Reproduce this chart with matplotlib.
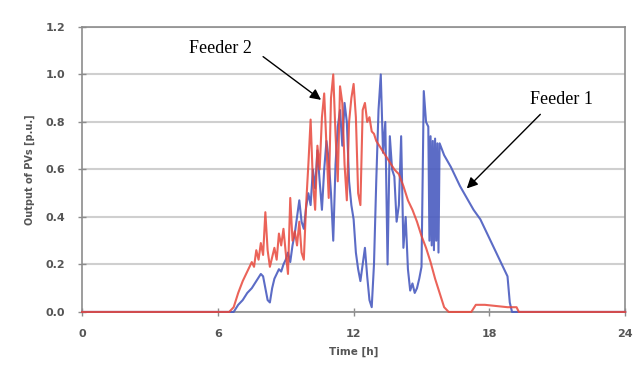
import matplotlib
matplotlib.use("Agg")
from matplotlib import pyplot as plt

# PV output over one day, per feeder (hours, per-unit)
feeder2_t = [0, 6.5, 6.7, 6.9, 7.1, 7.3, 7.5, 7.6, 7.7, 7.8, 7.9, 8.0, 8.1, 8.2, 8.3, 8.4,
             8.5, 8.6, 8.7, 8.8, 8.9, 9.0, 9.1, 9.2, 9.3, 9.4, 9.5, 9.6, 9.7, 9.8, 9.9,
             10.0, 10.1, 10.2, 10.3, 10.4, 10.5, 10.6, 10.7, 10.8, 10.9, 11.0, 11.1,
             11.2, 11.3, 11.4, 11.5, 11.6, 11.7, 11.8, 11.9, 12.0, 12.1, 12.2, 12.3,
             12.4, 12.5, 12.6, 12.7, 12.8, 12.9, 13.0, 13.2, 13.4, 13.6, 13.8, 14.0,
             14.2, 14.4, 14.6, 14.8, 15.0, 15.2, 15.4, 15.6, 15.8, 16.0, 16.2, 17.2,
             17.4, 17.8, 18.3, 18.8, 19.2, 19.3, 24]
feeder2_p = [0, 0, 0.02, 0.08, 0.13, 0.17, 0.21, 0.19, 0.26, 0.22, 0.29, 0.24, 0.42, 0.26,
             0.19, 0.23, 0.27, 0.22, 0.33, 0.28, 0.35, 0.25, 0.16, 0.48, 0.30, 0.34, 0.28,
             0.38, 0.25, 0.22, 0.45, 0.62, 0.81, 0.55, 0.43, 0.70, 0.60, 0.82, 0.92, 0.70,
             0.48, 0.90, 1.00, 0.75, 0.55, 0.95, 0.88, 0.62, 0.47, 0.80, 0.90, 0.96, 0.82,
             0.50, 0.45, 0.85, 0.88, 0.80, 0.82, 0.76, 0.75, 0.72, 0.69, 0.66, 0.63, 0.60,
             0.58, 0.53, 0.47, 0.43, 0.38, 0.32, 0.27, 0.21, 0.14, 0.08, 0.02, 0, 0, 0.03,
             0.03, 0.025, 0.02, 0.02, 0, 0]

feeder1_t = [0, 6.7, 6.9, 7.1, 7.3, 7.5, 7.7, 7.9, 8.0, 8.1, 8.2, 8.3, 8.4, 8.5, 8.6, 8.7,
             8.8, 8.9, 9.0, 9.1, 9.2, 9.3, 9.4, 9.5, 9.6, 9.7, 9.8, 9.9, 10.0, 10.1, 10.2,
             10.3, 10.4, 10.5, 10.6, 10.7, 10.8, 10.9, 11.0, 11.1, 11.2, 11.3, 11.4, 11.5,
             11.6, 11.7, 11.8, 11.9, 12.0, 12.1, 12.2, 12.3, 12.4, 12.5, 12.6, 12.7, 12.8,
             12.9, 13.0, 13.1, 13.2, 13.3, 13.4, 13.5, 13.6, 13.7, 13.8, 13.9, 14.0, 14.1,
             14.2, 14.3, 14.4, 14.5, 14.6, 14.7, 14.8, 14.9, 15.0, 15.1, 15.2, 15.3, 15.35,
             15.4, 15.45, 15.5, 15.55, 15.6, 15.65, 15.7, 15.75, 15.8, 16.0, 16.3, 16.7,
             17.0, 17.3, 17.6, 18.0, 18.3, 18.6, 18.8, 18.9, 19.0, 24]
feeder1_p = [0, 0, 0.03, 0.05, 0.08, 0.10, 0.13, 0.16, 0.15, 0.10, 0.05, 0.04, 0.10, 0.14,
             0.16, 0.18, 0.17, 0.20, 0.22, 0.25, 0.21, 0.28, 0.33, 0.40, 0.47, 0.38, 0.35,
             0.44, 0.50, 0.45, 0.60, 0.52, 0.68, 0.55, 0.43, 0.60, 0.72, 0.64, 0.50, 0.30,
             0.62, 0.78, 0.85, 0.70, 0.88, 0.80, 0.55, 0.45, 0.39, 0.25, 0.18, 0.13, 0.20,
             0.27, 0.15, 0.05, 0.02, 0.20, 0.55, 0.85, 1.00, 0.67, 0.80, 0.20, 0.74, 0.60,
             0.57, 0.38, 0.45, 0.74, 0.27, 0.40, 0.18, 0.09, 0.12, 0.08, 0.10, 0.14, 0.19,
             0.93, 0.80, 0.78, 0.30, 0.74, 0.28, 0.72, 0.26, 0.73, 0.30, 0.71, 0.25, 0.71,
             0.66, 0.61, 0.53, 0.48, 0.43, 0.39, 0.31, 0.25, 0.19, 0.15, 0.04, 0, 0]

x_ticks = [0, 6, 12, 18, 24]
y_ticks = [0.0, 0.2, 0.4, 0.6, 0.8, 1.0, 1.2]

fig = plt.figure(figsize=(6.36, 3.67), dpi=100)
ax = fig.add_axes([0.129, 0.150, 0.854, 0.7766])

ax.plot(feeder1_t, feeder1_p, color="#4a5cc0", linewidth=1.5, alpha=0.9, zorder=3,
        clip_on=False)
ax.plot(feeder2_t, feeder2_p, color="#e8483c", linewidth=1.5, alpha=0.85, zorder=4,
        clip_on=False)

ax.set_xlim(0, 24)
ax.set_ylim(0, 1.2)
ax.set_xticks(x_ticks)
ax.set_yticks(y_ticks)
ax.set_yticklabels([f"{v:.1f}" for v in y_ticks])
ax.grid(True, axis="y", color="#cfcfcf", linewidth=1.5, zorder=1)
ax.set_axisbelow(True)
for side in ax.spines.values():
    side.set_color("#8c8c8c")
    side.set_linewidth(1.2)
    side.set_zorder(2)
ax.tick_params(direction="inout", length=6, width=1.0, color="#8c8c8c",
               labelsize=8, labelcolor="#555555", pad=9)
for lbl in ax.get_xticklabels() + ax.get_yticklabels():
    lbl.set_fontweight("bold")

ax.set_xlabel("Time [h]", fontsize=7.5, fontweight="bold", color="#555555", labelpad=6)
ax.set_ylabel("Output of PVs [p.u.]", fontsize=7, fontweight="bold", color="#555555",
              labelpad=8)

# labels with leader arrows
arrow = dict(arrowstyle="-|>", color="black", linewidth=1.0, mutation_scale=16,
             shrinkA=0, shrinkB=0)
ax.text(6.1, 1.11, "Feeder 2", ha="center", va="center", fontsize=13,
        family="Liberation Serif", zorder=6)
ax.annotate("", xy=(10.56, 0.893), xytext=(8.0, 1.075), arrowprops=arrow, zorder=6)
ax.text(21.2, 0.893, "Feeder 1", ha="center", va="center", fontsize=13,
        family="Liberation Serif", zorder=6)
ax.annotate("", xy=(17.0, 0.52), xytext=(20.25, 0.832), arrowprops=arrow, zorder=6)

fig.savefig("out.png", dpi=100)
